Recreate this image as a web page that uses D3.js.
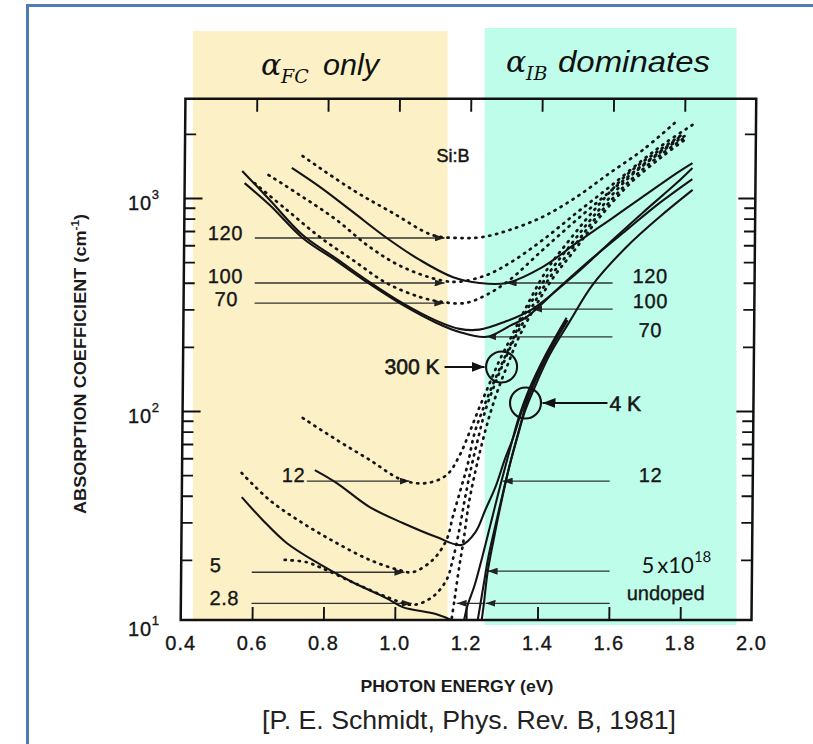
<!DOCTYPE html>
<html>
<head>
<meta charset="utf-8">
<script src="https://cdn.jsdelivr.net/npm/d3@7"></script>
<style>
  html, body { margin: 0; padding: 0; background: #fff; }
  svg { display: block; }
  .scan { font-family: "Liberation Sans", Arial, sans-serif; fill: #161616; stroke: #161616; stroke-width: 0.35; }
</style>
</head>
<body>
<div id="chart"></div>
<script>
// Si:B absorption, photon energy (eV) vs absorption coefficient (cm^-1)
const xTickValues = [0.4, 0.6, 0.8, 1.0, 1.2, 1.4, 1.6, 1.8, 2.0];
const xInnerTicks = [0.6, 0.8, 1.0, 1.2, 1.4, 1.6, 1.8];
const yMajor = [100, 1000];
const yMinor = [20, 30, 40, 50, 60, 70, 80, 90, 200, 300, 400, 500, 600, 700, 800, 900, 2000];
const yLabelValues = [10, 100, 1000];
const yLabelExp = ["1", "2", "3"];

// 300 K (dotted), doping in 10^18 cm^-3
const rt120 = [[0.730,1574],[0.871,1092],[0.984,851],[1.096,670],[1.172,649],[1.237,656],[1.312,708],[1.404,815],[1.499,1012],[1.591,1309],[1.683,1679],[1.772,2249]];
const rt100 = [[0.635,1282],[0.731,1012],[0.827,788],[0.920,589],[1.013,474],[1.123,410],[1.175,405],[1.249,435],[1.313,495],[1.405,635],[1.499,851],[1.591,1127],[1.683,1507],[1.750,1832],[1.822,2203]];
const rt70 = [[0.596,1175],[0.687,879],[0.780,656],[0.873,512],[0.968,399],[1.062,343],[1.126,325],[1.188,321],[1.249,351],[1.313,412],[1.405,570],[1.499,788],[1.591,1067],[1.683,1429],[1.786,1932]];
const rt12 = [[0.737,92.7],[0.833,73.1],[0.926,58.9],[1.018,47.4],[1.086,45.9],[1.142,50.1],[1.178,62.1],[1.205,79.6],[1.232,104],[1.260,135],[1.287,173],[1.315,215],[1.342,267],[1.417,459],[1.480,635],[1.544,860],[1.638,1282],[1.730,1679],[1.800,2018]];
const rt5 = [[0.567,51.2],[0.646,38.2],[0.739,29.8],[0.835,24.0],[0.928,20.0],[1.012,17.9],[1.049,17.5],[1.105,20.0],[1.143,24.8],[1.160,31.8],[1.181,42.6],[1.200,55.7],[1.219,78.9],[1.241,101],[1.268,132],[1.296,170],[1.323,215],[1.348,267],[1.420,435],[1.483,601],[1.547,822],[1.641,1227],[1.730,1626],[1.800,1954]];
const rt28 = [[0.690,20.0],[0.752,19.5],[0.788,18.5],[0.881,15.7],[0.977,13.4],[1.050,12.3],[1.105,13.4],[1.144,16.1],[1.161,20.0],[1.177,26.7],[1.193,38.2],[1.209,52.8],[1.228,73.1],[1.249,101],[1.277,137],[1.304,177],[1.329,220],[1.356,267],[1.425,421],[1.489,582],[1.553,805],[1.644,1189],[1.733,1592],[1.803,1932]];
const rtUndoped = [[1.157,9.9],[1.167,13.0],[1.178,17.9],[1.191,24.8],[1.204,36.2],[1.220,50.1],[1.239,69.2],[1.261,95.7],[1.285,128],[1.313,170],[1.337,215],[1.365,267],[1.431,412],[1.495,570],[1.558,788],[1.647,1164],[1.736,1556],[1.808,1914]];

// 4 K (solid)
const lt120 = [[0.700,1384],[0.779,1127],[0.872,860],[0.968,649],[1.061,512],[1.153,426],[1.229,399],[1.305,399],[1.405,474],[1.500,615],[1.592,788],[1.684,1012],[1.779,1309],[1.823,1459]];
const lt100 = [[0.561,1340],[0.639,979],[0.732,670],[0.828,518],[0.921,403],[1.014,321],[1.110,265],[1.174,243],[1.230,241],[1.300,262],[1.378,301],[1.501,444],[1.592,615],[1.684,851],[1.779,1175],[1.823,1384]];
const lt70 = [[0.568,1175],[0.639,927],[0.732,649],[0.828,506],[0.921,395],[1.014,315],[1.110,259],[1.174,235],[1.250,223],[1.315,251],[1.362,276],[1.454,382],[1.545,522],[1.640,708],[1.732,948],[1.823,1227]];
const lt12 = [[0.772,52.8],[0.834,45.9],[0.927,35.4],[1.020,29.8],[1.115,25.6],[1.185,23.5],[1.224,27.0],[1.251,34.3],[1.279,44.0],[1.304,58.9],[1.328,75.5],[1.350,98.9],[1.375,126],[1.419,183],[1.474,267]];
const lt5 = [[0.568,39.4],[0.627,30.8],[0.695,24.0],[0.788,19.1],[0.881,15.7],[0.977,13.2],[1.022,12.0],[1.117,11.1],[1.168,10.2],[1.185,9.6],[1.204,12.3],[1.223,15.2],[1.244,20.7],[1.269,30.8],[1.293,45.0],[1.318,65.6],[1.342,92.7],[1.367,122],[1.416,183],[1.474,274]];
const lt28 = [[1.229,9.6],[1.237,11.6],[1.248,15.2],[1.261,20.7],[1.280,29.2],[1.302,42.6],[1.323,60.1],[1.345,83.2],[1.367,113],[1.419,179],[1.477,267]];
const ltUndoped = [[1.241,9.6],[1.249,12.3],[1.259,17.5],[1.275,24.8],[1.294,36.2],[1.315,52.8],[1.337,73.1],[1.359,98.9],[1.381,123],[1.427,183],[1.482,262],[1.546,391],[1.640,589],[1.732,815],[1.824,1092]];

// marker lines with their labels (energy from/to, alpha level)
const leftMarks = [
  { label: "120", alpha: 649, e0: 0.598, e1: 1.130 },
  { label: "100", alpha: 399, e0: 0.599, e1: 1.131 },
  { label: "70", alpha: 321, e0: 0.599, e1: 1.131 },
  { label: "12", alpha: 46.9, e0: 0.750, e1: 1.038 },
  { label: "5", alpha: 17.5, e0: 0.598, e1: 1.026 },
  { label: "2.8", alpha: 12.5, e0: 0.598, e1: 1.047 }
];
const rightMarks = [
  { label: "120", alpha: 399, e0: 1.305, e1: 1.602 },
  { label: "100", alpha: 301, e0: 1.378, e1: 1.603 },
  { label: "70", alpha: 223, e0: 1.250, e1: 1.603 },
  { label: "12", alpha: 46.9, e0: 1.299, e1: 1.599 },
  { label: "5x", alpha: 17.7, e0: 1.259, e1: 1.601 },
  { label: "undoped", alpha: 12.5, e0: 1.254, e1: 1.602 },
  { label: "", alpha: 12.5, e0: 1.173, e1: 1.247 }
];

// regimes shaded behind the plot (energy ranges)
const bands = [
  { name: "fc", e0: 0.434, e1: 1.148, color: "#fcf0c6" },
  { name: "ib", e0: 1.252, e1: 1.958, color: "#bffdeb" }
];

// circled crossings
const circle300 = [1.293, 161];
const circle4 = [1.361, 109];

const W = 813, H = 744;
const aTop = 2920, aBottom = 10.45;

const xScale = d3.scaleLinear().domain([0.4, 2.0]).range([180.7, 751.5]);
const yScale = d3.scaleLog().domain([10, 1000]).range([624, 198]);

const x0 = xScale(0.4), x1 = xScale(2.0);
const yT = yScale(aTop), yB = yScale(aBottom);

const svg = d3.select("#chart").append("svg").attr("width", W).attr("height", H);
const defs = svg.append("defs");

defs.append("marker").attr("id", "head").attr("viewBox", "0 0 10 7")
  .attr("refX", 10).attr("refY", 3.5).attr("markerWidth", 10).attr("markerHeight", 7)
  .attr("markerUnits", "userSpaceOnUse").attr("orient", "auto-start-reverse")
  .append("path").attr("d", "M0,0L10,3.5L0,7z").attr("fill", "#222");
defs.append("marker").attr("id", "bighead").attr("viewBox", "0 0 13 10")
  .attr("refX", 13).attr("refY", 5).attr("markerWidth", 13).attr("markerHeight", 10)
  .attr("markerUnits", "userSpaceOnUse").attr("orient", "auto-start-reverse")
  .append("path").attr("d", "M0,0L13,5L0,10z").attr("fill", "#111");

// slide border
svg.append("rect").attr("x", 27.5).attr("y", 5.5).attr("width", 830).attr("height", 790)
  .attr("fill", "none").attr("stroke", "#4f7db3").attr("stroke-width", 3);

// regime bands
svg.selectAll("rect.band").data(bands).join("rect").attr("class", "band")
  .attr("x", d => xScale(d.e0)).attr("width", d => xScale(d.e1) - xScale(d.e0))
  .attr("y", d => d.name === "fc" ? 31 : 28)
  .attr("height", d => d.name === "fc" ? 590 : 597)
  .attr("fill", d => d.color);

// titles
const math = '"DejaVu Serif", "Liberation Serif", serif';
const sans = '"Liberation Sans", Arial, sans-serif';
svg.append("text").attr("x", 261).attr("y", 75).attr("font-family", math).attr("font-style", "italic")
  .attr("font-size", 30).attr("fill", "#111").text("α");
svg.append("text").attr("x", 281).attr("y", 83).attr("font-family", math).attr("font-style", "italic")
  .attr("font-size", 19).attr("fill", "#111").text("FC");
svg.append("text").attr("x", 323).attr("y", 75).attr("font-family", sans).attr("font-style", "italic")
  .attr("font-size", 30).attr("fill", "#111").attr("textLength", 56).attr("lengthAdjust", "spacingAndGlyphs").text("only");
svg.append("text").attr("x", 506).attr("y", 72).attr("font-family", math).attr("font-style", "italic")
  .attr("font-size", 30).attr("fill", "#111").text("α");
svg.append("text").attr("x", 526).attr("y", 80).attr("font-family", math).attr("font-style", "italic")
  .attr("font-size", 19).attr("fill", "#111").text("IB");
svg.append("text").attr("x", 558).attr("y", 72).attr("font-family", sans).attr("font-style", "italic")
  .attr("font-size", 30).attr("fill", "#111").attr("textLength", 152).attr("lengthAdjust", "spacingAndGlyphs").text("dominates");

// the scanned plot is a little skewed: shear it about the bottom edge
const plot = svg.append("g")
  .attr("transform", `translate(0,${yB}) skewX(-0.52) translate(0,${-yB})`);

plot.append("clipPath").attr("id", "clip").append("rect")
  .attr("x", x0).attr("y", yT).attr("width", x1 - x0).attr("height", yB - yT);

const line = d3.line()
  .x(d => xScale(d[0]))
  .y(d => yScale(d[1]))
  .curve(d3.curveCatmullRom.alpha(0.5));

const series = [
  { data: rt120, dotted: true }, { data: rt100, dotted: true }, { data: rt70, dotted: true },
  { data: rt12, dotted: true }, { data: rt5, dotted: true }, { data: rt28, dotted: true },
  { data: rtUndoped, dotted: true },
  { data: lt120, dotted: false }, { data: lt100, dotted: false }, { data: lt70, dotted: false },
  { data: lt12, dotted: false }, { data: lt5, dotted: false }, { data: lt28, dotted: false },
  { data: ltUndoped, dotted: false }
];

// marker lines
const marks = plot.append("g").attr("stroke", "#333").attr("stroke-width", 1.3);
marks.selectAll("line.l").data(leftMarks).join("line").attr("class", "l")
  .attr("x1", d => xScale(d.e0)).attr("x2", d => xScale(d.e1))
  .attr("y1", d => yScale(d.alpha)).attr("y2", d => yScale(d.alpha))
  .attr("marker-end", "url(#head)");
marks.selectAll("line.r").data(rightMarks).join("line").attr("class", "r")
  .attr("x1", d => xScale(d.e0)).attr("x2", d => xScale(d.e1))
  .attr("y1", d => yScale(d.alpha)).attr("y2", d => yScale(d.alpha))
  .attr("marker-start", "url(#head)");

plot.append("g").attr("clip-path", "url(#clip)")
  .selectAll("path").data(series).join("path")
  .attr("d", d => line(d.data))
  .attr("fill", "none")
  .attr("stroke", "#141414")
  .attr("stroke-width", d => d.dotted ? 2.7 : 2.1)
  .attr("stroke-dasharray", d => d.dotted ? "1.2 5.8" : null)
  .attr("stroke-linecap", d => d.dotted ? "round" : "butt")
  .attr("stroke-linejoin", "round");

// label offsets from line ends (px): [dx, dy]
const leftLabelPos = { "120": [-47, 2], "100": [-47, 0], "70": [-40, 3], "12": [-25, 1], "5": [-42, 0], "2.8": [-42, 2] };
const rightLabelPos = { "120": [20, 0], "100": [20, -1], "70": [26, 0], "12": [29, 1], "5x": [32, 2], "undoped": [17, -3] };

plot.selectAll("text.ll").data(leftMarks).join("text").attr("class", "ll scan")
  .attr("x", d => xScale(d.e0) + leftLabelPos[d.label][0])
  .attr("y", d => yScale(d.alpha) + leftLabelPos[d.label][1])
  .attr("font-size", 20).attr("letter-spacing", 0.6).text(d => d.label);

plot.selectAll("text.rl").data(rightMarks.filter(d => d.label && d.label !== "5x")).join("text").attr("class", "rl scan")
  .attr("x", d => xScale(d.e1) + rightLabelPos[d.label][0])
  .attr("y", d => yScale(d.alpha) + rightLabelPos[d.label][1])
  .attr("font-size", 20).attr("letter-spacing", d => d.label === "undoped" ? 0 : 0.6).text(d => d.label);

const five = rightMarks.find(d => d.label === "5x");
const fiveT = plot.append("text")
  .attr("x", xScale(five.e1) + rightLabelPos["5x"][0])
  .attr("y", yScale(five.alpha) + rightLabelPos["5x"][1])
  .attr("font-family", "Lato, 'Open Sans', sans-serif").attr("font-size", 22).attr("fill", "#111");
fiveT.append("tspan").text("5");
fiveT.append("tspan").attr("dx", 3).text("x10");
fiveT.append("tspan").attr("dy", -11).attr("font-size", 15).text("18");

// circled crossings and their arrows
const cx3 = xScale(circle300[0]), cy3 = yScale(circle300[1]);
const cx4 = xScale(circle4[0]), cy4 = yScale(circle4[1]);
plot.selectAll("circle.ring").data([[cx3, cy3], [cx4, cy4]]).join("circle").attr("class", "ring")
  .attr("cx", d => d[0]).attr("cy", d => d[1]).attr("r", 15.5)
  .attr("fill", "none").attr("stroke", "#111").attr("stroke-width", 2.1);
plot.append("line").attr("x1", cx3 - 57).attr("x2", cx3 - 17).attr("y1", cy3).attr("y2", cy3)
  .attr("stroke", "#111").attr("stroke-width", 2).attr("marker-end", "url(#bighead)");
plot.append("line").attr("x1", cx4 + 82).attr("x2", cx4 + 17).attr("y1", cy4).attr("y2", cy4)
  .attr("stroke", "#111").attr("stroke-width", 2).attr("marker-end", "url(#bighead)");
plot.append("text").attr("class", "scan").attr("x", cx3 - 62).attr("y", cy3 + 7)
  .attr("text-anchor", "end").attr("font-size", 21).style("stroke-width", 0.6).text("300 K");
plot.append("text").attr("class", "scan").attr("x", cx4 + 84).attr("y", cy4 + 8)
  .attr("font-size", 21).style("stroke-width", 0.6).text("4 K");

// frame and ticks
plot.append("rect").attr("x", x0).attr("y", yT).attr("width", x1 - x0).attr("height", yB - yT)
  .attr("fill", "none").attr("stroke", "#111").attr("stroke-width", 2.5);

function ticks(g) {
  g.select(".domain").remove();
  g.selectAll("line").attr("stroke", "#111").attr("stroke-width", 1.9);
}
plot.append("g").attr("transform", `translate(${x0},0)`)
  .call(d3.axisLeft(yScale).tickValues(yMajor).tickSize(-18).tickFormat("")).call(ticks);
plot.append("g").attr("transform", `translate(${x0},0)`)
  .call(d3.axisLeft(yScale).tickValues(yMinor).tickSize(-11).tickFormat("")).call(ticks);
plot.append("g").attr("transform", `translate(${x1},0)`)
  .call(d3.axisRight(yScale).tickValues(yMajor).tickSize(-17).tickFormat("")).call(ticks);
plot.append("g").attr("transform", `translate(${x1},0)`)
  .call(d3.axisRight(yScale).tickValues(yMinor).tickSize(-11).tickFormat("")).call(ticks);
plot.append("g").attr("transform", `translate(0,${yT})`)
  .call(d3.axisTop(xScale).tickValues(xInnerTicks).tickSize(-13).tickFormat("")).call(ticks);
plot.append("g").attr("transform", `translate(0,${yB})`)
  .call(d3.axisBottom(xScale).tickValues(xInnerTicks).tickSize(-13).tickFormat("")).call(ticks);

// Si:B
svg.append("text").attr("class", "scan").attr("x", 453).attr("y", 162)
  .attr("text-anchor", "middle").attr("font-size", 18).style("stroke-width", 0.5).text("Si:B");

// tick labels
svg.selectAll("text.xt").data(xTickValues).join("text").attr("class", "xt scan")
  .attr("x", d => xScale(d)).attr("y", 650).attr("text-anchor", "middle")
  .attr("font-size", 20).attr("letter-spacing", 1).text(d => d.toFixed(1));

const yt = svg.selectAll("text.yt").data(yLabelValues).join("text").attr("class", "yt scan")
  .attr("x", 128).attr("y", d => yScale(d) + 12).attr("font-size", 20).attr("letter-spacing", 0.8);
yt.append("tspan").text("10");
yt.append("tspan").attr("dy", -11).attr("font-size", 13).text((d, i) => yLabelExp[i]);

// axis titles
const yTitle = svg.append("text").attr("transform", "translate(86,364) rotate(-90)")
  .attr("text-anchor", "middle").attr("font-family", sans).attr("font-weight", "bold")
  .attr("font-size", 17).attr("fill", "#1a1a1a")
  .attr("textLength", 300).attr("lengthAdjust", "spacingAndGlyphs");
yTitle.append("tspan").text("ABSORPTION COEFFICIENT (cm");
yTitle.append("tspan").attr("dy", -7).attr("font-size", 11).text("-1");
yTitle.append("tspan").attr("dy", 7).text(")");

svg.append("text").attr("x", 457).attr("y", 692).attr("text-anchor", "middle")
  .attr("font-family", sans).attr("font-weight", "bold").attr("font-size", 16.5).attr("fill", "#1a1a1a")
  .attr("textLength", 193).attr("lengthAdjust", "spacingAndGlyphs").text("PHOTON ENERGY (eV)");

svg.append("text").attr("x", 469).attr("y", 729).attr("text-anchor", "middle")
  .attr("font-family", sans).attr("font-size", 25).attr("fill", "#222")
  .attr("textLength", 414).attr("lengthAdjust", "spacingAndGlyphs")
  .text("[P. E. Schmidt, Phys. Rev. B, 1981]");
</script>
</body>
</html>
